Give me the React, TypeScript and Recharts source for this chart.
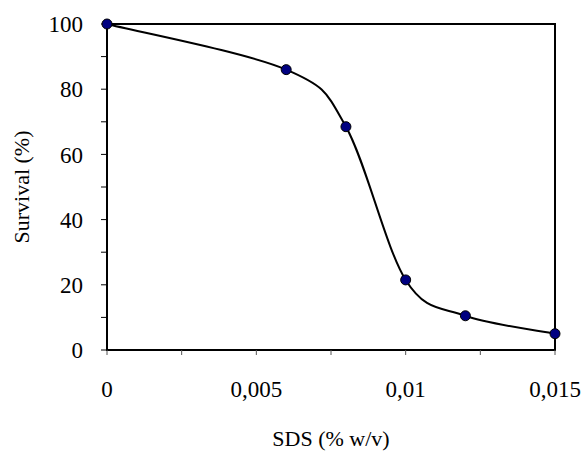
import React from "react";
import { LineChart, Line, XAxis, YAxis, ReferenceArea } from "recharts";

// SDS concentration (% w/v) and measured survival (%)
const sdsConcentration = [0, 0.006, 0.008, 0.01, 0.012, 0.015];
const survivalPercent = [100, 86, 68.5, 21.5, 10.5, 5];

// axis ticks: every tick gets a mark, only the major ones get a label
const xTicks = [0, 0.0025, 0.005, 0.0075, 0.01, 0.0125, 0.015];
const xLabelTicks = [0, 0.005, 0.01, 0.015];
const yTicks = [0, 10, 20, 30, 40, 50, 60, 70, 80, 90, 100];
const yLabelTicks = [0, 20, 40, 60, 80, 100];

const data = sdsConcentration.map((x, i) => ({ x, y: survivalPercent[i] }));

const FONT = "'Liberation Serif', 'Times New Roman', serif";

const formatX = (v: number) =>
  xLabelTicks.includes(v) ? String(v).replace(".", ",") : "";
const formatY = (v: number) => (yLabelTicks.includes(v) ? String(v) : "");

// Smoothed line: uniform Catmull-Rom drawn as cubic Bezier segments
const catmullRom = (context: any) => {
  let pts: [number, number][] = [];
  let line = NaN;
  return {
    areaStart() {
      line = 0;
    },
    areaEnd() {
      line = NaN;
    },
    lineStart() {
      pts = [];
    },
    point(x: number, y: number) {
      pts.push([+x, +y]);
    },
    lineEnd() {
      const n = pts.length;
      if (n === 0) return;
      if (line === 0 || !isNaN(line)) context.lineTo(pts[0][0], pts[0][1]);
      else context.moveTo(pts[0][0], pts[0][1]);
      for (let i = 0; i < n - 1; i++) {
        const p0 = pts[Math.max(i - 1, 0)];
        const p1 = pts[i];
        const p2 = pts[i + 1];
        const p3 = pts[Math.min(i + 2, n - 1)];
        context.bezierCurveTo(
          p1[0] + (p2[0] - p0[0]) / 6,
          p1[1] + (p2[1] - p0[1]) / 6,
          p2[0] - (p3[0] - p1[0]) / 6,
          p2[1] - (p3[1] - p1[1]) / 6,
          p2[0],
          p2[1]
        );
      }
      if (line === 0) context.closePath();
    },
  };
};

const YTitle = (props: any) => {
  const vb = props.viewBox;
  const cx = vb.x + 21;
  const cy = vb.y + vb.height / 2;
  return (
    <text
      x={cx}
      y={cy}
      transform={`rotate(-90, ${cx}, ${cy})`}
      textAnchor="middle"
      dominantBaseline="central"
      fontFamily={FONT}
      fontSize={22}
      fill="#000"
    >
      Survival (%)
    </text>
  );
};

const XTitle = (props: any) => {
  const vb = props.viewBox;
  const cx = vb.x + vb.width / 2;
  const cy = vb.y + 88;
  return (
    <text
      x={cx}
      y={cy}
      textAnchor="middle"
      dominantBaseline="central"
      fontFamily={FONT}
      fontSize={22}
      fill="#000"
    >
      SDS (% w/v)
    </text>
  );
};

export default function App() {
  return (
    <div style={{ position: "absolute", left: 0, top: 0, background: "#fff" }}>
      <LineChart
        width={585}
        height={457}
        data={data}
        margin={{ top: 24, right: 30, left: 0, bottom: 0 }}
      >
        <XAxis
          dataKey="x"
          type="number"
          domain={[0, 0.015]}
          ticks={xTicks}
          tickFormatter={formatX}
          interval={0}
          height={107}
          tickSize={5}
          tickMargin={26}
          axisLine={{ stroke: "#000", strokeWidth: 2 }}
          tickLine={{ stroke: "#555", strokeWidth: 1 }}
          tick={{ fill: "#000", fontFamily: FONT, fontSize: 23 }}
          label={{ content: XTitle }}
        />
        <YAxis
          type="number"
          domain={[0, 100]}
          ticks={yTicks}
          tickFormatter={formatY}
          interval={0}
          width={107}
          tickSize={6}
          tickMargin={18}
          axisLine={{ stroke: "#000", strokeWidth: 2 }}
          tickLine={{ stroke: "#000", strokeWidth: 1 }}
          tick={{ fill: "#000", fontFamily: FONT, fontSize: 23 }}
          label={{ content: YTitle }}
        />
        <ReferenceArea
          x1={0}
          x2={0.015}
          y1={0}
          y2={100}
          fill="none"
          fillOpacity={0}
          stroke="#000"
          strokeWidth={2}
        />
        <Line
          dataKey="y"
          type={catmullRom as any}
          stroke="#000"
          strokeWidth={2}
          dot={{ r: 5, fill: "#000080", stroke: "#000", strokeWidth: 1 }}
          isAnimationActive={false}
        />
      </LineChart>
    </div>
  );
}
